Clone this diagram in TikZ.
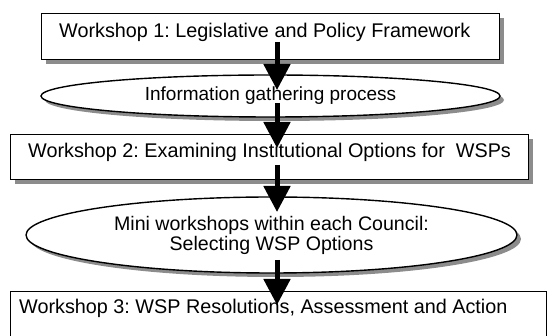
\documentclass[tikz,border=0pt]{standalone}
\usepackage{fontspec}
\setmainfont{Liberation Sans}
\usetikzlibrary{shapes.geometric,arrows.meta,shadows}
\frenchspacing
\begin{document}
\begin{tikzpicture}[x=1pt,y=-1pt,
  dshadow/.style={drop shadow={shadow xshift=4pt,shadow yshift=-4pt,fill=black!45,opacity=1}},
  wbox/.style={rectangle,draw=black,line width=1.3pt,fill=white,inner sep=0pt,anchor=north west,dshadow},
  wellipse/.style={ellipse,draw=black,line width=1.4pt,fill=white,inner sep=0pt,dshadow,
    font=\frenchspacing\fontsize{19}{20}\selectfont,align=center},
  wtext/.style={anchor=base west,inner sep=0pt,font=\frenchspacing\fontsize{19.8}{22}\selectfont},
  bigarrow/.style={draw=black,line width=5pt,-{Triangle[length=26pt,width=26pt]}}]
\useasboundingbox (0,0) rectangle (547,336);
\clip (0,0) rectangle (547,336);
% shapes
\node[wbox,minimum width=458pt,minimum height=46pt] (b1) at (41,13) {};
\node[wtext] (t1) at (59,38) {Workshop 1: Legislative and Policy Framework};
\node[wellipse,minimum width=459pt,minimum height=42pt] (e1) at (270.5,96) {Information gathering process};
\node[wbox,minimum width=518pt,minimum height=45pt] (b2) at (10,134) {};
\node[wtext] (t2) at (28,158) {Workshop 2: Examining Institutional Options for\ \ WSPs};
\node[wellipse,minimum width=491pt,minimum height=76pt,font=\frenchspacing\fontsize{19.6}{20}\selectfont] (e2) at (271.5,235) {Mini workshops within each Council:\\Selecting WSP Options};
\node[wbox,minimum width=536pt,minimum height=60pt] (b3) at (10,291) {};
\node[wtext] (t3) at (19,314) {Workshop 3: WSP Resolutions, Assessment and Action};
% arrow ends
\coordinate (a1s) at (277,42);  \coordinate (a1e) at (277,90);
\coordinate (a2s) at (277,103); \coordinate (a2e) at (277,148);
\coordinate (a3s) at (277,165); \coordinate (a3e) at (277,212);
\coordinate (a4s) at (277,260); \coordinate (a4e) at (277,305);
\draw[bigarrow] (a1s) -- (a1e);
\draw[bigarrow] (a2s) -- (a2e);
\draw[bigarrow] (a3s) -- (a3e);
\draw[bigarrow] (a4s) -- (a4e);
\end{tikzpicture}
\end{document}
